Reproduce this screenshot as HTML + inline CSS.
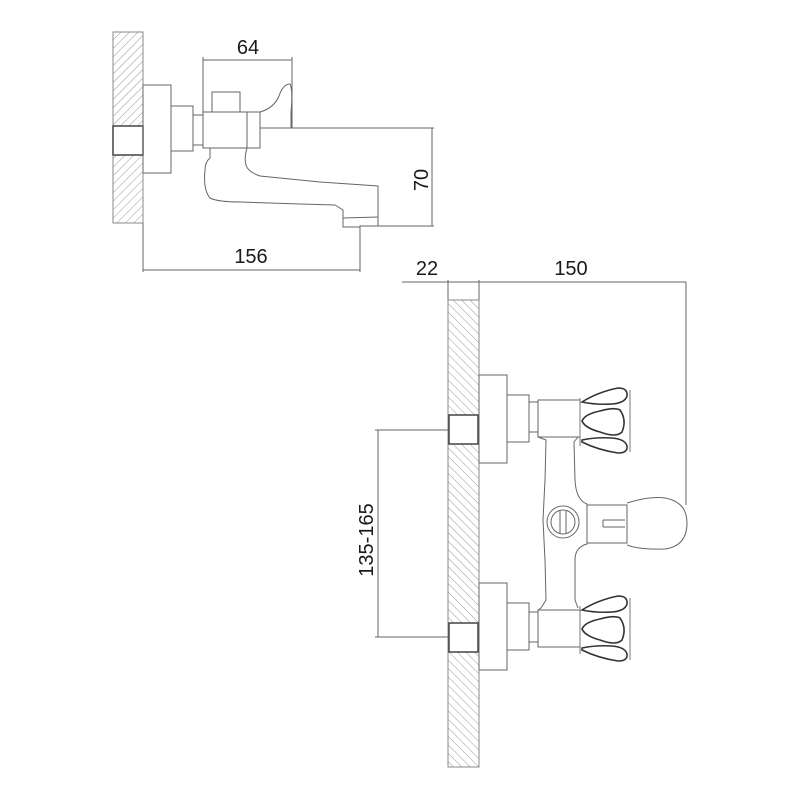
<!DOCTYPE html>
<html><head><meta charset="utf-8"><style>
html,body{margin:0;padding:0;background:#fff;width:800px;height:800px;overflow:hidden}
svg text{font-family:"Liberation Sans",sans-serif;fill:#1a1a1a}
</style></head><body>
<svg width="800" height="800" viewBox="0 0 800 800" xmlns="http://www.w3.org/2000/svg">
<defs>
<pattern id="h1" width="6" height="6" patternUnits="userSpaceOnUse" patternTransform="rotate(45)">
<line x1="0" y1="0" x2="0" y2="6" stroke="#999" stroke-width="1"/></pattern>
<pattern id="h2" width="6" height="6" patternUnits="userSpaceOnUse" patternTransform="rotate(-45)">
<line x1="0" y1="0" x2="0" y2="6" stroke="#999" stroke-width="1"/></pattern>
<g id="hd">
<path d="M580 398 L580 446 M630 390 L630 452" fill="none" stroke="#777" stroke-width="1"/>
<path d="M582 402 Q598 392 618 388 Q628 388 627 396 Q625 403 612 404 Q596 405 582 402 Z"/>
<path d="M582 421 Q585 414 600 411 Q614 407 620 410 Q627 420 622 432 Q616 438 600 432 Q585 428 582 421 Z"/>
<path d="M582 440 Q596 437 612 438 Q625 439 627 446 Q628 453 618 453 Q598 450 582 442 Z"/>
</g>
</defs>
<g fill="none" stroke="#666" stroke-width="1">
<!-- TOP VIEW -->
<rect x="113" y="32" width="30" height="191" fill="url(#h1)" stroke="#888"/>
<rect x="113" y="126" width="30" height="29" fill="#fff" stroke="#444" stroke-width="1.5"/>
<rect x="143" y="85" width="28" height="88"/>
<rect x="171" y="106" width="22" height="45"/>
<rect x="193" y="115" width="10" height="30"/>
<rect x="203" y="112" width="44" height="36"/>
<rect x="212" y="92" width="28" height="20"/>
<rect x="247" y="112" width="13" height="36"/>
<path d="M260 112 Q274 108 279 96 Q283 84 290 84 Q293 90 291 112 L291 128"/>
<path d="M210 148 L210 158 Q205 162 205 170 Q203 190 210 198 Q218 202 240 202 L300 204 L335 205 L343 210 L343 218 L378 217 L378 186 L320 182 L260 176 Q248 172 246 165 Q244 158 247 148"/>
<path d="M343 218 L343 227 L360 227 L360 226 L378 226 L378 217"/>
<!-- dims top -->
<line x1="203" y1="57" x2="203" y2="112"/>
<line x1="292" y1="57" x2="292" y2="128"/>
<line x1="203" y1="60" x2="292" y2="60"/>
<line x1="260" y1="128" x2="434" y2="128"/>
<line x1="378" y1="226" x2="434" y2="226"/>
<line x1="432" y1="128" x2="432" y2="226"/>
<line x1="143" y1="223" x2="143" y2="272"/>
<line x1="360" y1="227" x2="360" y2="272"/>
<line x1="143" y1="270" x2="360" y2="270"/>
<!-- BOTTOM VIEW -->
<line x1="402" y1="282" x2="686" y2="282"/>
<line x1="448" y1="280" x2="448" y2="300"/>
<line x1="479" y1="280" x2="479" y2="300"/>
<line x1="686" y1="282" x2="686" y2="505"/>
<rect x="448" y="300" width="31" height="467" fill="url(#h2)" stroke="#888"/>
<rect x="449" y="415" width="29" height="29" fill="#fff" stroke="#444" stroke-width="1.5"/>
<rect x="449" y="623" width="29" height="29" fill="#fff" stroke="#444" stroke-width="1.5"/>
<line x1="375" y1="430" x2="448" y2="430"/>
<line x1="375" y1="637" x2="448" y2="637"/>
<line x1="378" y1="430" x2="378" y2="637"/>
<rect x="479" y="375" width="28" height="88"/>
<rect x="507" y="395" width="22" height="47"/>
<rect x="529" y="402" width="9" height="30"/>
<rect x="538" y="400" width="42" height="37"/>
<rect x="479" y="583" width="28" height="87"/>
<rect x="507" y="603" width="22" height="47"/>
<rect x="529" y="612" width="9" height="30"/>
<rect x="538" y="610" width="42" height="37"/>
<path d="M538 437 L546 440 L545 480 L543 520 L545 560 L546 600 L541 608 L538 610"/>
<path d="M578 437 L574 442 L575 480 Q576 500 587 504 L587 544 Q575 547 575 560 L575 600 L578 608"/>
<circle cx="563" cy="522" r="16"/>
<circle cx="563" cy="522" r="12"/>
<line x1="560" y1="511" x2="560" y2="533"/>
<line x1="566" y1="511" x2="566" y2="533"/>
<rect x="587" y="505" width="40" height="38"/>
<path d="M603 520 L625 520 M603 527 L625 527 M603 520 L603 527"/>
<path d="M627 503 Q650 496 665 498 Q687 502 687 523 Q687 546 665 549 Q640 550 627 545"/>
</g>
<g fill="none" stroke="#333" stroke-width="1.6">
<use href="#hd"/>
<use href="#hd" transform="translate(0,208)"/>
</g>
<text x="248" y="54" font-size="20" text-anchor="middle">64</text>
<text x="251" y="263" font-size="20" text-anchor="middle">156</text>
<text transform="translate(428,180) rotate(-90)" font-size="20" text-anchor="middle">70</text>
<text x="427" y="275" font-size="20" text-anchor="middle">22</text>
<text x="571" y="275" font-size="20" text-anchor="middle">150</text>
<text transform="translate(373,540) rotate(-90)" font-size="20" text-anchor="middle">135-165</text>
</svg>
</body></html>
